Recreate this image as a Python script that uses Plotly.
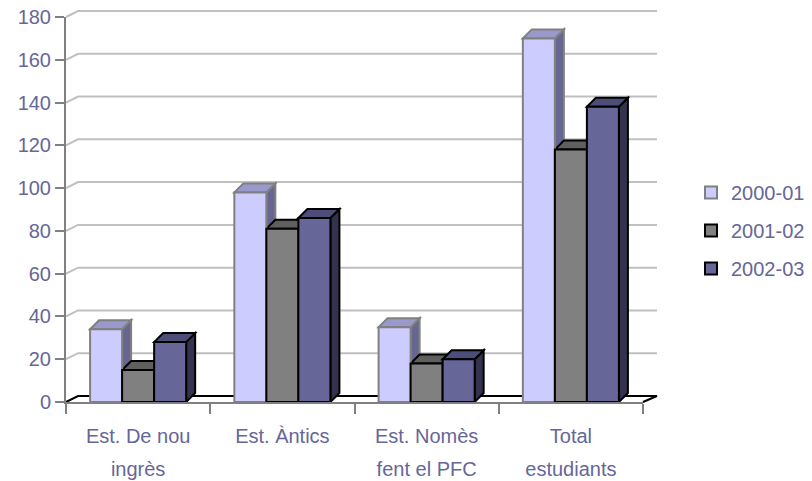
import plotly.graph_objects as go

# ---------------- data ----------------
CATEGORIES = ["Est. De nou ingrès", "Est. Àntics", "Est. Nomès fent el PFC", "Total estudiants"]
LABEL_LINE1 = ["Est. De nou", "Est. Àntics", "Est. Nomès", "Total"]
LABEL_LINE2 = ["ingrès", "", "fent el PFC", "estudiants"]
SERIES = ["2000-01", "2001-02", "2002-03"]
V_2000_01 = [34, 98, 35, 170]
V_2001_02 = [15, 81, 18, 118]
V_2002_03 = [28, 86, 20, 138]
Y_TICKS = [0, 20, 40, 60, 80, 100, 120, 140, 160, 180]

VALUES = [V_2000_01, V_2001_02, V_2002_03]

# ---------------- style ----------------
FRONT = ["#CCCCFF", "#808080", "#666699"]
TOP = ["#9999CC", "#5F5F5F", "#4D4D7A"]
SIDE = ["#666690", "#404040", "#333350"]
EDGE = ["#808080", "#000000", "#000000"]
TXT = "#666699"
FONT = "Liberation Sans, Arial, sans-serif"
FS = 20

PAGE = 8                              # default body margin of the html page
W, H = 812 - PAGE, 481 - PAGE
ML, MR, MT, MB = 66 - PAGE, 155, 11 - PAGE, 79
PW, PH = W - ML - MR, H - MT - MB
FRONT_W, FRONT_H = 577, 385          # front plane size in px
XD_END, YD_END = FRONT_W / PW, FRONT_H / PH
YMAX = Y_TICKS[-1]
NCAT = len(CATEGORIES)
PX_X = FRONT_W / NCAT                # px per category unit
PX_Y = FRONT_H / YMAX                # px per value unit
WALL_DX, WALL_DY = 12, 6             # px depth of the wall
BAR_DX, BAR_DY = 9, 9                # px depth of the bars
BARGAP = 0.334
BW = (1 - BARGAP) / len(SERIES)

fig = go.Figure()
for j, (name, vals) in enumerate(zip(SERIES, VALUES)):
    fig.add_trace(go.Bar(
        name=name, x=CATEGORIES, y=vals, legendgroup=name,
        marker=dict(color=FRONT[j], line=dict(color=EDGE[j], width=2)),
        hoverinfo="x+y+name",
    ))
# empty helper trace so the second label axis is drawn
fig.add_trace(go.Scatter(x=[], y=[], xaxis="x2", yaxis="y", showlegend=False,
                         hoverinfo="skip"))

shapes = []
# back wall gridlines and floor (paper coords derived from tick values)
def pv(v):
    return v / YMAX * YD_END

wx, wy = WALL_DX / PW, WALL_DY / PH
for v in Y_TICKS:
    if v == 0:
        continue
    p = pv(v)
    shapes.append(dict(type="path", xref="paper", yref="paper", layer="below",
                       path=f"M0,{p} L{wx},{p + wy} L1,{p + wy}",
                       line=dict(color="#C0C0C0", width=2)))
p0 = pv(0)
shapes.append(dict(type="path", xref="paper", yref="paper", layer="below",
                   path=f"M0,{p0} L{wx},{p0 + wy} L1,{p0 + wy} L{XD_END},{p0}",
                   line=dict(color="#000000", width=2)))

# 3D faces of the bars, ordered left to right
ddx = BAR_DX / PX_X
ddy = BAR_DY / PX_Y
for i in range(NCAT):
    for j in range(len(SERIES)):
        v = VALUES[j][i]
        c = i - (1 - BARGAP) / 2 + BW * (j + 0.5)
        x0, x1 = c - BW / 2, c + BW / 2
        side = f"M{x1},0 L{x1},{v} L{x1 + ddx},{v + ddy} L{x1 + ddx},{ddy} Z"
        top = f"M{x0},{v} L{x0 + ddx},{v + ddy} L{x1 + ddx},{v + ddy} L{x1},{v} Z"
        shapes.append(dict(type="path", xref="x", yref="y", layer="between", path=side,
                           fillcolor=SIDE[j], line=dict(color=EDGE[j], width=2)))
        shapes.append(dict(type="path", xref="x", yref="y", layer="between", path=top,
                           fillcolor=TOP[j], line=dict(color=EDGE[j], width=2)))

fig.update_layout(
    width=W, height=H,
    margin=dict(l=ML, r=MR, t=MT, b=MB, autoexpand=False),
    paper_bgcolor="white", plot_bgcolor="rgba(0,0,0,0)",
    font=dict(family=FONT, size=FS, color=TXT),
    barmode="group", bargap=BARGAP, bargroupgap=0,
    shapes=shapes,
    showlegend=True,
    legend=dict(x=(691 - 66) / PW, xanchor="left", y=(402 - 173) / PH, yanchor="top",
                font=dict(size=FS, color=TXT), tracegroupgap=9,
                traceorder="grouped", bgcolor="rgba(0,0,0,0)"),
    xaxis=dict(type="category", categoryorder="array", categoryarray=CATEGORIES,
               domain=[0, XD_END], range=[-0.5, NCAT - 0.5], automargin=False,
               tickmode="array", tickvals=CATEGORIES, ticktext=LABEL_LINE1,
               tickson="boundaries", ticks="outside", ticklen=10, tickwidth=2,
               tickcolor="#808080", showline=True, linecolor="#808080", linewidth=2,
               showgrid=False, zeroline=False, ticklabelstandoff=15,
               ticklabeloverflow="allow",
               tickfont=dict(size=FS, color=TXT)),
    xaxis2=dict(overlaying="x", anchor="y", side="bottom", range=[-0.5, NCAT - 0.5],
                automargin=False, ticklabeloverflow="allow",
                tickmode="array", tickvals=list(range(NCAT)), ticktext=LABEL_LINE2,
                ticks="", showline=False, showgrid=False, zeroline=False,
                ticklabelstandoff=53, tickfont=dict(size=FS, color=TXT)),
    yaxis=dict(domain=[0, YD_END], range=[0, YMAX], tickmode="array", tickvals=Y_TICKS,
               automargin=False, ticklabeloverflow="allow",
               ticks="outside", ticklen=9, tickwidth=2, tickcolor="#808080",
               showline=True, linecolor="#808080", linewidth=2,
               showgrid=False, zeroline=False, tickfont=dict(size=FS, color=TXT)),
)

fig.write_html("out.html")
